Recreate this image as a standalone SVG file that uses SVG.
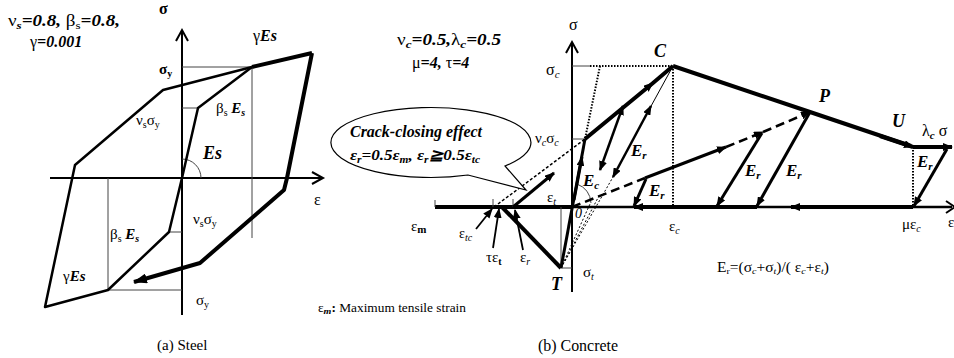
<svg xmlns="http://www.w3.org/2000/svg" width="954" height="358" viewBox="0 0 954 358">
<defs>
<style>
text{font-family:"Liberation Serif","Times New Roman",serif;fill:#000}
.bi{font-weight:bold;font-style:italic}
.it{font-style:italic}
.ax{stroke:#000;stroke-width:2;fill:none}
.thin{stroke:#444;stroke-width:1;fill:none}
.m2{stroke:#000;stroke-width:2.5;fill:none;stroke-linejoin:round}
.k3{stroke:#000;stroke-width:3;fill:none;stroke-linejoin:round}
.k4{stroke:#000;stroke-width:4;fill:none;stroke-linejoin:round}
.dot{stroke:#000;stroke-width:2;fill:none;stroke-dasharray:1.5 1.5}
.dotthin{stroke:#000;stroke-width:1;fill:none;stroke-dasharray:2 2}
.dash{stroke:#000;stroke-width:2.5;fill:none;stroke-dasharray:9 5}
.ptr{stroke:#000;stroke-width:1.8;fill:none}
</style>
<marker id="ah" viewBox="0 0 10 8" refX="9" refY="4" markerWidth="10" markerHeight="8" markerUnits="userSpaceOnUse" orient="auto-start-reverse"><path d="M0,0 L10,4 L0,8 z"/></marker>
<marker id="ahL" viewBox="0 0 14 10" refX="13" refY="5" markerWidth="14" markerHeight="10" markerUnits="userSpaceOnUse" orient="auto"><path d="M0,0 L14,5 L0,10 z"/></marker>
</defs>
<rect width="954" height="358" fill="#fff"/>

<g id="steel">
  <g id="steel-axes">
    <line class="ax" x1="182" y1="315" x2="182" y2="31"/>
    <polyline class="ax" points="176,41 182,30 188,41"/>
    <line class="ax" x1="50" y1="178" x2="322" y2="178"/>
    <polyline class="ax" points="312,172 323,178 312,184"/>
  </g>
  <g id="steel-guides">
    <line class="thin" x1="182" y1="67" x2="252" y2="67"/>
    <line class="thin" x1="252" y1="67" x2="252" y2="238"/>
    <line class="thin" x1="182" y1="108" x2="198" y2="108"/>
    <line class="thin" x1="169" y1="232" x2="182" y2="232"/>
    <line class="thin" x1="108" y1="290" x2="182" y2="290"/>
    <line class="thin" x1="108" y1="178" x2="108" y2="290"/>
    <path class="thin" d="M182,159 A19,19 0 0 1 201,178"/>
  </g>
  <g id="steel-curves">
    <polyline class="m2" points="182,178 198,108 252,67"/>
    <polyline class="m2" points="182,178 169,232 108,290 45,307 75,165 163,90 252,67"/>
    <line class="k4" x1="252" y1="67" x2="312" y2="53"/>
    <polyline class="k4" points="312,53 287,178 284,190 200,263 134,282" marker-end="url(#ahL)"/>
  </g>
  <g id="steel-labels">
    <text x="8" y="26" class="bi" font-size="16" textLength="112" lengthAdjust="spacingAndGlyphs"><tspan font-style="normal" font-weight="normal">ν</tspan><tspan font-size="11" dy="3">s</tspan><tspan dy="-3">=0.8, </tspan><tspan font-style="normal" font-weight="normal">β</tspan><tspan font-size="11" dy="3" font-style="normal" font-weight="normal">s</tspan><tspan dy="-3">=0.8,</tspan></text>
    <text x="30" y="47" class="bi" font-size="16"><tspan font-style="normal" font-weight="normal">γ</tspan>=0.001</text>
    <text x="159" y="14" font-size="16" font-weight="bold">σ</text>
    <text x="159" y="74" font-size="15" font-weight="bold">σ<tspan font-size="10" dy="3">y</tspan></text>
    <text x="253" y="41" font-size="16"><tspan>γ</tspan><tspan class="bi">Es</tspan></text>
    <text x="216" y="113" font-size="15">β<tspan font-size="10" dy="3">s</tspan><tspan dy="-3" class="bi"> E</tspan><tspan font-size="10" dy="3" class="bi">s</tspan></text>
    <text x="136" y="125" font-size="15">ν<tspan font-size="10" dy="3">s</tspan><tspan dy="-3">σ</tspan><tspan font-size="10" dy="3">y</tspan></text>
    <text x="203" y="159" font-size="18" class="bi">Es</text>
    <text x="314" y="205" font-size="16">ε</text>
    <text x="193" y="224" font-size="15">ν<tspan font-size="10" dy="3">s</tspan><tspan dy="-3">σ</tspan><tspan font-size="10" dy="3">y</tspan></text>
    <text x="110" y="239" font-size="15">β<tspan font-size="10" dy="3">s</tspan><tspan dy="-3" class="bi"> E</tspan><tspan font-size="10" dy="3" class="bi">s</tspan></text>
    <text x="63" y="281" font-size="15">γ<tspan class="bi">Es</tspan></text>
    <text x="196" y="305" font-size="15">σ<tspan font-size="10" dy="3">y</tspan></text>
    <text x="157" y="350" font-size="15">(a) Steel</text>
  </g>
</g>

<g id="concrete">
  <g id="concrete-axes">
    <line class="ax" x1="572" y1="292" x2="572" y2="43"/>
    <polyline class="ax" points="566,53 572,42 578,53"/>
    <line class="k4" x1="435" y1="207" x2="572" y2="207"/>
    <line class="m2" x1="572" y1="207" x2="952" y2="207"/>
    <polyline class="ax" points="946,201 955,207 946,213"/>
    <line class="thin" x1="435" y1="200" x2="435" y2="207"/>
    <line class="thin" x1="493" y1="199" x2="493" y2="207"/>
    <line class="thin" x1="513" y1="199" x2="513" y2="207"/>
  </g>
  <g id="concrete-guides">
    <line class="thin" x1="572" y1="66" x2="590" y2="66"/>
    <line class="dot" x1="590" y1="66" x2="673" y2="66"/>
    <line class="dot" x1="600" y1="66" x2="585" y2="139"/>
    <line class="thin" x1="572" y1="139" x2="585" y2="139"/>
    <line class="dot" x1="673" y1="66" x2="673" y2="207"/>
    <line class="dot" x1="913" y1="147" x2="913" y2="207"/>
    <line class="thin" x1="561" y1="207" x2="561" y2="268"/>
    <line class="thin" x1="561" y1="268" x2="572" y2="268"/>
    <path class="thin" d="M577,184 Q590,189 591,203"/>
    <line class="dotthin" x1="561" y1="268" x2="600" y2="194"/>
    <line class="dotthin" x1="561" y1="268" x2="590" y2="204"/>
  </g>
  <g id="concrete-curves">
    <line class="k4" x1="502" y1="207" x2="561" y2="268"/>
    <line class="k3" x1="561" y1="268" x2="585" y2="139"/>
    <path class="k3" d="M574,200 L582,157" marker-end="url(#ah)"/>
    <polyline class="k4" points="585,139 653,83 673,66" marker-mid="url(#ah)"/>
    <polyline class="k4" points="673,66 810,112 911,146" />
    <path class="k4" d="M880,136 L913,147" marker-end="url(#ah)"/>
    <line class="k4" x1="913" y1="147" x2="952" y2="147" marker-end="url(#ah)"/>
    <line class="k3" x1="947" y1="149" x2="914" y2="206" marker-end="url(#ah)"/>
    <line class="k3" x1="810" y1="112" x2="757" y2="206" marker-end="url(#ah)"/>
    <line class="k3" x1="762" y1="133" x2="717" y2="206" marker-end="url(#ah)"/>
    <line class="k4" x1="913" y1="207" x2="791" y2="207" marker-end="url(#ah)"/>
    <line class="k4" x1="757" y1="207" x2="634" y2="207" marker-end="url(#ah)"/>
    <line class="dash" x1="572" y1="207" x2="645" y2="178"/>
    <line class="k3" x1="645" y1="178" x2="726" y2="147" marker-end="url(#ah)"/>
    <line class="dash" x1="726" y1="147" x2="763" y2="132" marker-end="url(#ah)"/>
    <line class="dash" x1="763" y1="132" x2="810" y2="112" marker-end="url(#ah)"/>
    <line class="k3" x1="646" y1="179" x2="634" y2="206" marker-end="url(#ah)"/>
    <line class="dotthin" x1="561" y1="268" x2="613" y2="177"/>
    <line class="m2" x1="613" y1="177" x2="651" y2="106" marker-start="url(#ah)" marker-end="url(#ah)"/>
    <line stroke="#000" stroke-width="1" x1="650" y1="108" x2="673" y2="66"/>
    <line class="m2" x1="623" y1="106" x2="600" y2="170" marker-start="url(#ah)" marker-end="url(#ah)"/>
    <line stroke="#000" stroke-width="1.5" stroke-dasharray="3 2" x1="494" y1="207" x2="585" y2="139"/>
    <line class="k3" x1="513" y1="207" x2="554" y2="173" marker-end="url(#ah)"/>
    <line class="ptr" x1="476" y1="229" x2="492" y2="209" marker-end="url(#ah)"/>
    <line class="ptr" x1="493" y1="248" x2="499" y2="209" marker-end="url(#ah)"/>
    <line class="ptr" x1="523" y1="250" x2="515" y2="210" marker-end="url(#ah)"/>
  </g>
  <g id="callout">
    <path d="M505,166 A100,35 0 1 0 468,175 L526,190 Z" fill="#fff" stroke="#000" stroke-width="1.2"/>
    <text x="350" y="137" font-size="16" class="bi" textLength="132" lengthAdjust="spacingAndGlyphs">Crack-closing effect</text>
    <text x="350" y="160" font-size="15" class="bi" textLength="130" lengthAdjust="spacingAndGlyphs">ε<tspan font-size="10" dy="3">r</tspan><tspan dy="-3">=0.5ε</tspan><tspan font-size="10" dy="3">m</tspan><tspan dy="-3">, ε</tspan><tspan font-size="10" dy="3">r</tspan><tspan dy="-3">≧0.5ε</tspan><tspan font-size="10" dy="3">tc</tspan></text>
  </g>
  <g id="concrete-labels">
    <text x="397" y="45" font-size="16" class="bi" textLength="104" lengthAdjust="spacingAndGlyphs"><tspan font-style="normal" font-weight="normal">ν</tspan><tspan font-size="11" dy="3">c</tspan><tspan dy="-3">=0.5,</tspan><tspan font-style="normal" font-weight="normal">λ</tspan><tspan font-size="11" dy="3">c</tspan><tspan dy="-3">=0.5</tspan></text>
    <text x="412" y="68" font-size="16" class="bi"><tspan font-style="normal" font-weight="normal">μ</tspan>=4, <tspan font-style="normal" font-weight="normal">τ</tspan>=4</text>
    <text x="569" y="30" font-size="16">σ</text>
    <text x="546" y="75" font-size="16">σ<tspan font-size="11" dy="3" class="it">c</tspan></text>
    <text x="535" y="143" font-size="15">ν<tspan font-size="10" dy="3" class="it">c</tspan><tspan dy="-3">σ</tspan><tspan font-size="10" dy="3" class="it">c</tspan></text>
    <text x="654" y="57" font-size="18" class="bi">C</text>
    <text x="819" y="102" font-size="18" class="bi">P</text>
    <text x="892" y="127" font-size="18" class="bi">U</text>
    <text x="922" y="136" font-size="16">λ<tspan font-size="11" dy="3" class="bi">c</tspan><tspan dy="-3"> σ</tspan></text>
    <text x="631" y="156" font-size="17" class="bi">E<tspan font-size="11" dy="3">r</tspan></text>
    <text x="649" y="196" font-size="17" class="bi">E<tspan font-size="11" dy="3">r</tspan></text>
    <text x="745" y="176" font-size="17" class="bi">E<tspan font-size="11" dy="3">r</tspan></text>
    <text x="786" y="176" font-size="17" class="bi">E<tspan font-size="11" dy="3">r</tspan></text>
    <text x="917" y="167" font-size="17" class="bi">E<tspan font-size="11" dy="3">r</tspan></text>
    <text x="583" y="186" font-size="17" class="bi">E<tspan font-size="11" dy="3">c</tspan></text>
    <text x="547" y="202" font-size="15">ε<tspan font-size="10" dy="3" class="it">t</tspan></text>
    <text x="575" y="218" font-size="14" class="it">0</text>
    <text x="551" y="290" font-size="18" class="bi">T</text>
    <text x="583" y="277" font-size="15">σ<tspan font-size="10" dy="3" class="it">t</tspan></text>
    <text x="669" y="231" font-size="15">ε<tspan font-size="10" dy="3" class="it">c</tspan></text>
    <text x="902" y="229" font-size="15">με<tspan font-size="10" dy="3" class="it">c</tspan></text>
    <text x="948" y="227" font-size="15">ε</text>
    <text x="411" y="231" font-size="15">ε<tspan font-size="11" dy="2" font-weight="bold">m</tspan></text>
    <text x="459" y="238" font-size="14">ε<tspan font-size="10" dy="3" class="it">tc</tspan></text>
    <text x="486" y="262" font-size="15">τε<tspan font-size="10" dy="3" font-weight="bold">t</tspan></text>
    <text x="520" y="262" font-size="15">ε<tspan font-size="10" dy="3" class="it">r</tspan></text>
    <text x="717" y="272" font-size="14" textLength="112" lengthAdjust="spacingAndGlyphs">E<tspan font-size="9" dy="2">r</tspan><tspan dy="-2">=(σ</tspan><tspan font-size="9" dy="2" class="it">c</tspan><tspan dy="-2">+σ</tspan><tspan font-size="9" dy="2" class="it">t</tspan><tspan dy="-2">)/( ε</tspan><tspan font-size="9" dy="2" class="it">c</tspan><tspan dy="-2">+ε</tspan><tspan font-size="9" dy="2" class="it">t</tspan><tspan dy="-2">)</tspan></text>
    <text x="318" y="312" font-size="12" textLength="148" lengthAdjust="spacingAndGlyphs">ε<tspan font-size="9" dy="2" class="bi">m</tspan><tspan dy="-2" font-weight="bold">:</tspan> Maximum tensile strain</text>
    <text x="538" y="351" font-size="16" textLength="80" lengthAdjust="spacingAndGlyphs">(b) Concrete</text>
  </g>
</g>
</svg>
